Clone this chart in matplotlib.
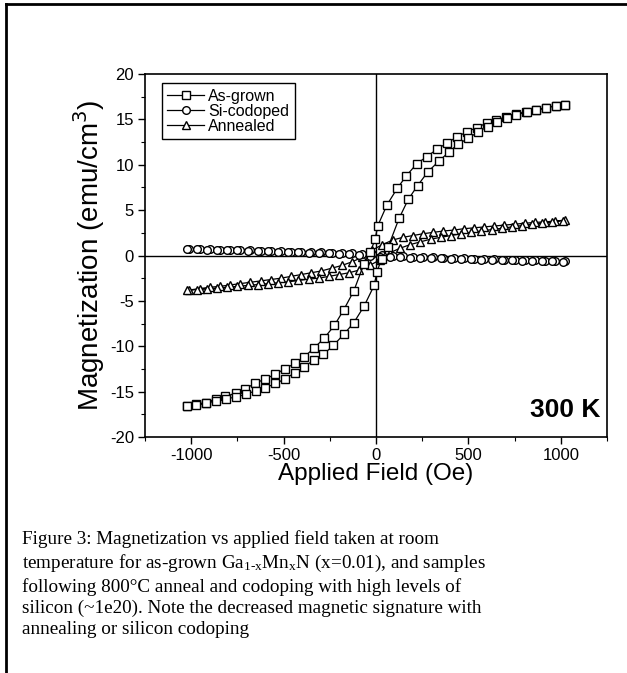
import numpy as np
import matplotlib
matplotlib.use('Agg')
import matplotlib.pyplot as plt
from matplotlib.lines import Line2D

plt.rcParams['font.family'] = ['Liberation Sans', 'DejaVu Sans']
plt.rcParams['axes.unicode_minus'] = False
plt.rcParams['mathtext.fontset'] = 'custom'
plt.rcParams['mathtext.rm'] = 'Liberation Serif'
plt.rcParams['mathtext.it'] = 'Liberation Serif:italic'

# as-grown loop (squares), field in Oe, M in emu/cm^3
H_ag_down = [1025, 975, 920, 865, 810, 760, 705, 650, 600, 545, 490, 440, 385, 330, 275,
             220, 165, 115, 60, 10, -5, -30, -65, -120, -175, -225, -280, -335, -390, -440,
             -495, -545, -600, -655, -710, -760, -815, -865, -920, -975, -1025]
M_ag_down = [16.6, 16.5, 16.3, 16.0, 15.8, 15.6, 15.3, 14.9, 14.6, 14.1, 13.6, 13.1, 12.4, 11.7, 10.9,
             10.1, 8.8, 7.4, 5.6, 3.3, 1.8, 0.4, -0.9, -3.9, -6.0, -7.7, -9.1, -10.2, -11.2, -11.9,
             -12.5, -13.1, -13.6, -14.1, -14.7, -15.2, -15.5, -15.8, -16.2, -16.4, -16.6]
H_ag_up = [-1025, -975, -920, -865, -810, -760, -705, -650, -600, -545, -490, -440, -390, -335, -285,
           -230, -175, -120, -65, -10, 5, 30, 65, 125, 175, 225, 280, 340, 395, 445,
           500, 550, 605, 655, 710, 760, 815, 865, 920, 975, 1025]
M_ag_up = [-16.6, -16.5, -16.3, -16.0, -15.8, -15.6, -15.3, -14.9, -14.6, -14.1, -13.6, -12.9, -12.3, -11.5, -10.9,
           -9.9, -8.7, -7.4, -5.6, -3.3, -1.8, -0.4, 0.9, 4.1, 6.2, 7.7, 9.2, 10.4, 11.4, 12.3,
           12.9, 13.6, 14.2, 14.7, 15.1, 15.5, 15.8, 16.0, 16.3, 16.5, 16.6]

# shared field grid for the Si-codoped and annealed loops
H_down = [1025, 970, 915, 860, 805, 750, 695, 640, 585, 530, 475, 420, 365, 310, 255, 200, 145, 90, 35,
          -20, -75, -130, -185, -240, -295, -350, -405, -460, -515, -570, -625, -680, -735, -790, -845,
          -900, -955, -1010]
H_up = [-1025, -970, -915, -860, -805, -750, -695, -640, -585, -530, -475, -420, -365, -310, -255, -200,
        -145, -90, -35, 20, 75, 130, 185, 240, 295, 350, 405, 460, 515, 570, 625, 680, 735, 790, 845,
        900, 955, 1010]

M_si_down = [-0.65, -0.62, -0.58, -0.55, -0.52, -0.48, -0.45, -0.42, -0.38, -0.35, -0.32, -0.28, -0.25,
             -0.22, -0.18, -0.14, -0.10, -0.05, 0.05, 0.15, 0.20, 0.25, 0.28, 0.32, 0.35, 0.38, 0.41,
             0.44, 0.47, 0.50, 0.53, 0.56, 0.59, 0.62, 0.65, 0.68, 0.71, 0.74]
M_si_up = [0.72, 0.69, 0.66, 0.63, 0.60, 0.56, 0.53, 0.50, 0.46, 0.42, 0.39, 0.35, 0.31, 0.27, 0.23,
           0.18, 0.13, 0.07, -0.02, -0.12, -0.18, -0.22, -0.25, -0.28, -0.30, -0.33, -0.36, -0.39,
           -0.42, -0.45, -0.48, -0.51, -0.54, -0.57, -0.60, -0.63, -0.66, -0.69]

M_an_down = [3.9, 3.8, 3.7, 3.65, 3.55, 3.45, 3.35, 3.25, 3.15, 3.05, 2.95, 2.8, 2.7, 2.55, 2.4, 2.2,
             2.0, 1.7, 1.2, 0.6, -0.2, -0.7, -1.1, -1.4, -1.7, -1.9, -2.1, -2.3, -2.5, -2.65, -2.8,
             -2.95, -3.1, -3.25, -3.4, -3.5, -3.65, -3.8]
M_an_up = [-3.85, -3.75, -3.7, -3.6, -3.5, -3.4, -3.3, -3.2, -3.1, -3.0, -2.9, -2.75, -2.6, -2.5, -2.3,
           -2.1, -1.9, -1.6, -1.1, -0.5, 0.3, 0.8, 1.2, 1.5, 1.8, 2.0, 2.2, 2.4, 2.55, 2.7, 2.85, 3.0,
           3.15, 3.3, 3.45, 3.55, 3.7, 3.85]

caption = ("Figure 3: Magnetization vs applied field taken at room\n"
           "temperature for as-grown Ga$_{\\mathrm{1\\text{-}x}}$Mn$_{\\mathrm{x}}$N (x=0.01), and samples\n"
           "following 800\u00b0C anneal and codoping with high levels of\n"
           "silicon (~1e20). Note the decreased magnetic signature with\n"
           "annealing or silicon codoping")

fig = plt.figure(figsize=(6.27, 6.73), dpi=100)
ax = fig.add_axes([145/627, 1 - 437/673, 462/627, 363/673])

ax.axhline(0, color='black', lw=1.0, zorder=1)
ax.axvline(0, color='black', lw=1.0, zorder=1)

style = dict(color='black', lw=0.9, mfc='white', mec='black', mew=1.0, ms=5.5)
ax.plot(H_down + H_up, M_an_down + M_an_up, marker='^', label='Annealed', zorder=2, **style)
ax.plot(H_down + H_up, M_si_down + M_si_up, marker='o', label='Si-codoped', zorder=3, **style)
ax.plot(H_ag_down + H_ag_up, M_ag_down + M_ag_up, marker='s', label='As-grown', zorder=4, **style)

ax.set_xlim(-1250, 1250)
ax.set_ylim(-20, 20)
ax.set_xticks([-1000, -500, 0, 500, 1000])
ax.set_xticks(np.arange(-1250, 1251, 250), minor=True)
ax.set_yticks(np.arange(-20, 21, 5))
ax.set_yticks(np.arange(-20, 21, 2.5), minor=True)
ax.tick_params(which='major', direction='out', length=5, width=1, labelsize=12, pad=3,
               top=False, right=False)
ax.tick_params(which='minor', direction='out', length=3, width=0.8, top=False, right=False)
for s in ax.spines.values():
    s.set_linewidth(1.2)

ax.set_xlabel('Applied Field (Oe)', fontsize=17.5, labelpad=0)
ax.set_ylabel('Magnetization (emu/cm$^3$)', fontsize=20, labelpad=2)
ax.yaxis.label.set_math_fontfamily('dejavusans')

h, l = ax.get_legend_handles_labels()
leg = ax.legend(h[::-1], l[::-1], loc='upper left', fontsize=11.5, frameon=True, fancybox=False,
                edgecolor='black', framealpha=1, handlelength=2.3, handletextpad=0.25,
                labelspacing=0.0, borderpad=0.35, borderaxespad=0, bbox_to_anchor=(0.036, 0.975))
leg.get_frame().set_linewidth(1.0)

ax.text(0.985, 0.04, '300 K', transform=ax.transAxes, ha='right', va='bottom',
        fontsize=19, fontweight='bold')

fig.text(22/627, 1 - 530/673, caption, ha='left', va='top', fontsize=13.8,
         family='Liberation Serif', linespacing=1.3)

# scanned page frame
fig.add_artist(Line2D([6/627, 6/627], [0, 1 - 4/673], color='black', lw=2))
fig.add_artist(Line2D([6/627, 1], [1 - 4/673, 1 - 4/673], color='black', lw=2))

fig.savefig('out.png', dpi=100)
